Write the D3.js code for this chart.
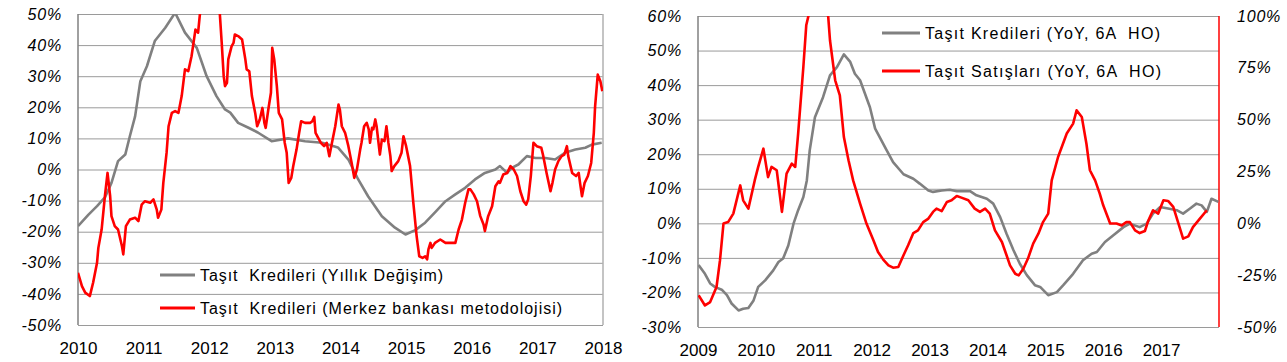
<!DOCTYPE html>
<html>
<head>
<meta charset="utf-8">
<script src="https://cdn.jsdelivr.net/npm/d3@7"></script>
<style>
  body { margin: 0; background: #fff; }
  svg { display: block; }
  text { font-family: "Liberation Sans", Arial, sans-serif; fill: #000; }
</style>
</head>
<body>
<svg id="chart" width="1287" height="362"></svg>
<script>
// ---- left panel: yearly change of vehicle loans (decimal year, %) ----
const leftYears = [2010, 2011, 2012, 2013, 2014, 2015, 2016, 2017, 2018];
const leftTicks = [-50, -40, -30, -20, -10, 0, 10, 20, 30, 40, 50];
const leftLabels = ["Taşıt  Kredileri (Yıllık Değişim)", "Taşıt  Kredileri (Merkez bankası metodolojisi)"];

const krediYillik = [
  [2010.00,-18.2],[2010.16,-14.5],[2010.29,-11.8],[2010.41,-9.0],[2010.51,-4.3],[2010.61,2.7],
  [2010.72,4.8],[2010.79,10.7],[2010.87,17.1],[2010.95,28.4],[2011.05,33.2],[2011.17,41.3],
  [2011.33,45.6],[2011.48,50.4],[2011.63,44.0],[2011.81,39.1],[2011.96,30.0],[2012.11,23.6],
  [2012.24,19.3],[2012.32,18.3],[2012.44,15.0],[2012.59,13.5],[2012.74,11.9],[2012.95,9.1],
  [2013.20,10.0],[2013.46,9.1],[2013.72,8.6],[2013.96,7.1],[2014.12,3.2],[2014.27,-3.2],
  [2014.42,-8.6],[2014.63,-15.0],[2014.83,-18.7],[2014.99,-20.9],[2015.14,-19.5],[2015.29,-17.1],
  [2015.44,-13.8],[2015.60,-10.2],[2015.75,-8.0],[2015.90,-5.9],[2016.05,-3.2],[2016.20,-1.1],
  [2016.36,0.0],[2016.43,1.1],[2016.54,-1.1],[2016.61,0.5],[2016.71,1.6],[2016.84,4.3],
  [2016.97,3.7],[2017.12,3.7],[2017.27,3.2],[2017.42,5.4],[2017.58,6.4],[2017.73,7.0],
  [2017.83,8.0],[2017.98,8.6]
];

const krediMerkez = [
  [2010.00,-33.2],[2010.06,-37.5],[2010.11,-39.6],[2010.18,-40.7],[2010.23,-36.4],[2010.29,-30.0],
  [2010.31,-25.2],[2010.36,-19.3],[2010.41,-8.6],[2010.45,-1.1],[2010.49,-8.6],[2010.51,-15.0],
  [2010.56,-18.2],[2010.61,-19.3],[2010.67,-24.7],[2010.69,-27.3],[2010.73,-18.2],[2010.79,-16.1],
  [2010.87,-15.5],[2010.92,-16.6],[2010.97,-11.3],[2011.02,-10.2],[2011.10,-10.7],[2011.15,-9.6],
  [2011.20,-12.9],[2011.22,-15.5],[2011.27,-12.9],[2011.30,-4.3],[2011.35,5.4],[2011.38,13.9],
  [2011.43,18.2],[2011.48,18.8],[2011.53,18.2],[2011.58,23.6],[2011.63,32.2],[2011.68,31.6],
  [2011.73,36.4],[2011.76,40.7],[2011.79,45.0],[2011.83,44.0],[2011.86,50.4],[2011.92,58.0],
  [2012.01,62.0],[2012.10,57.0],[2012.16,50.4],[2012.19,40.7],[2012.22,30.0],[2012.24,26.8],
  [2012.27,27.9],[2012.29,35.4],[2012.34,39.6],[2012.37,40.7],[2012.39,43.4],[2012.44,42.9],
  [2012.50,41.8],[2012.55,35.4],[2012.57,32.2],[2012.61,31.6],[2012.65,23.6],[2012.70,18.2],
  [2012.73,13.9],[2012.77,16.1],[2012.81,19.8],[2012.84,15.0],[2012.86,13.4],[2012.90,19.3],
  [2012.94,24.7],[2012.96,39.1],[2012.99,35.4],[2013.03,26.8],[2013.06,18.2],[2013.11,16.1],
  [2013.15,8.6],[2013.18,5.4],[2013.21,-4.3],[2013.25,-2.7],[2013.28,1.1],[2013.33,6.4],
  [2013.37,11.8],[2013.40,15.5],[2013.46,15.0],[2013.54,15.0],[2013.57,15.5],[2013.60,16.9],
  [2013.62,11.8],[2013.66,10.2],[2013.70,8.6],[2013.75,7.5],[2013.79,8.6],[2013.83,4.3],
  [2013.87,8.6],[2013.92,13.9],[2013.97,20.9],[2013.99,19.3],[2014.02,13.9],[2014.07,11.8],
  [2014.12,7.5],[2014.17,2.1],[2014.21,-2.7],[2014.25,0.0],[2014.30,6.4],[2014.32,8.6],
  [2014.36,13.9],[2014.40,15.0],[2014.43,12.9],[2014.45,8.6],[2014.48,13.4],[2014.50,12.9],
  [2014.53,16.1],[2014.55,13.9],[2014.60,4.8],[2014.63,9.6],[2014.67,9.1],[2014.70,13.9],
  [2014.73,8.6],[2014.76,4.3],[2014.78,-0.5],[2014.82,1.1],[2014.88,2.7],[2014.93,5.4],
  [2014.96,10.7],[2015.00,7.5],[2015.03,4.3],[2015.06,1.1],[2015.11,-10.7],[2015.16,-21.4],
  [2015.20,-27.9],[2015.25,-28.4],[2015.29,-27.9],[2015.32,-28.9],[2015.34,-25.7],[2015.37,-23.6],
  [2015.39,-25.2],[2015.44,-23.6],[2015.52,-22.5],[2015.60,-23.6],[2015.67,-23.6],[2015.75,-23.6],
  [2015.80,-19.3],[2015.85,-16.1],[2015.90,-10.7],[2015.95,-6.4],[2015.98,-6.4],[2016.03,-8.0],
  [2016.08,-10.2],[2016.13,-15.0],[2016.18,-17.7],[2016.20,-19.8],[2016.25,-15.0],[2016.31,-11.8],
  [2016.36,-5.4],[2016.41,-3.8],[2016.43,-4.3],[2016.48,-1.6],[2016.54,-1.1],[2016.59,1.1],
  [2016.64,0.0],[2016.69,-2.1],[2016.74,-7.0],[2016.79,-10.2],[2016.83,-11.3],[2016.86,-9.6],
  [2016.90,-2.1],[2016.94,8.6],[2016.99,7.5],[2017.06,7.0],[2017.09,4.3],[2017.14,-1.1],
  [2017.20,-7.0],[2017.23,-4.3],[2017.27,0.0],[2017.32,2.7],[2017.37,4.3],[2017.41,4.8],
  [2017.45,7.5],[2017.47,4.3],[2017.53,-1.1],[2017.59,-2.1],[2017.63,-1.1],[2017.65,-4.3],
  [2017.68,-8.6],[2017.72,-4.3],[2017.77,-2.1],[2017.82,2.1],[2017.86,11.8],[2017.88,20.4],
  [2017.92,30.5],[2017.96,28.4],[2017.99,25.2]
];

// ---- right panel: loans (left axis) vs sales (right axis), YoY 6-month MA ----
const rightYears = [2009, 2010, 2011, 2012, 2013, 2014, 2015, 2016, 2017];
const rightTicksLeft = [-30, -20, -10, 0, 10, 20, 30, 40, 50, 60];
const rightTicksRight = [-50, -25, 0, 25, 50, 75, 100];
const rightLabels = ["Taşıt Kredileri (YoY, 6A  HO)", "Taşıt Satışları (YoY, 6A  HO)"];

const krediYoY = [
  [2009.01,-12.1],[2009.12,-14.6],[2009.21,-17.4],[2009.29,-18.4],[2009.41,-19.2],[2009.50,-20.8],
  [2009.58,-23.2],[2009.70,-25.2],[2009.78,-24.7],[2009.87,-24.5],[2009.96,-22.3],[2010.04,-18.4],
  [2010.16,-16.5],[2010.30,-13.6],[2010.39,-11.2],[2010.47,-10.2],[2010.56,-6.4],[2010.65,-0.1],
  [2010.73,3.8],[2010.82,7.6],[2010.88,12.4],[2010.93,21.1],[2011.02,30.7],[2011.16,36.5],
  [2011.28,42.8],[2011.40,45.2],[2011.52,48.9],[2011.63,46.7],[2011.71,43.3],[2011.80,41.4],
  [2011.97,33.6],[2012.06,27.4],[2012.26,21.1],[2012.37,17.7],[2012.55,14.2],[2012.72,12.9],
  [2012.83,11.5],[2012.98,9.5],[2013.06,9.1],[2013.21,9.5],[2013.35,9.7],[2013.47,9.3],
  [2013.64,9.3],[2013.70,9.3],[2013.81,8.1],[2013.99,7.1],[2014.10,5.7],[2014.22,1.8],
  [2014.33,-3.0],[2014.45,-7.8],[2014.56,-11.7],[2014.68,-15.0],[2014.82,-17.9],[2014.91,-18.4],
  [2015.05,-20.8],[2015.20,-19.9],[2015.31,-17.9],[2015.48,-14.6],[2015.65,-10.7],[2015.80,-8.8],
  [2015.89,-8.3],[2016.03,-5.4],[2016.17,-3.5],[2016.35,-1.1],[2016.46,-0.1],[2016.63,-1.1],
  [2016.75,-0.1],[2016.86,2.8],[2016.98,4.7],[2017.12,4.3],[2017.27,3.8],[2017.38,2.8],
  [2017.50,4.3],[2017.61,5.7],[2017.70,5.2],[2017.79,3.3],[2017.87,7.1],[2017.99,6.2]
];

const satisYoY = [
  [2009.01,-34.7],[2009.12,-39.6],[2009.21,-38.0],[2009.32,-30.7],[2009.38,-17.8],[2009.44,-0.1],
  [2009.52,0.6],[2009.61,4.7],[2009.73,18.3],[2009.78,11.1],[2009.87,7.1],[2009.98,20.7],
  [2010.04,27.2],[2010.13,36.0],[2010.21,22.3],[2010.27,27.2],[2010.36,25.6],[2010.45,5.5],
  [2010.53,24.0],[2010.62,28.8],[2010.68,27.2],[2010.73,43.3],[2010.82,75.4],[2010.87,95.5],
  [2010.91,100.3],[2010.99,112],[2011.11,115],[2011.19,108],[2011.25,99.5],[2011.28,88.3],
  [2011.37,69.0],[2011.45,61.7],[2011.52,41.6],[2011.60,30.4],[2011.68,20.7],[2011.80,9.5],
  [2011.91,-0.1],[2012.03,-8.2],[2012.11,-13.8],[2012.20,-17.5],[2012.29,-20.3],[2012.37,-21.4],
  [2012.46,-21.1],[2012.55,-15.4],[2012.63,-10.6],[2012.72,-4.7],[2012.80,-3.4],[2012.89,0.6],
  [2012.98,2.3],[2013.06,5.5],[2013.12,7.1],[2013.21,5.9],[2013.30,10.3],[2013.38,11.1],
  [2013.47,13.2],[2013.55,12.4],[2013.67,11.1],[2013.78,7.1],[2013.87,5.5],[2013.96,7.1],
  [2014.04,4.7],[2014.13,-3.4],[2014.25,-9.0],[2014.33,-15.4],[2014.39,-20.3],[2014.48,-24.3],
  [2014.54,-25.1],[2014.62,-21.9],[2014.70,-17.0],[2014.79,-9.8],[2014.88,-5.0],[2014.96,0.6],
  [2015.05,4.7],[2015.11,20.7],[2015.22,32.0],[2015.37,43.3],[2015.48,48.1],[2015.54,54.5],
  [2015.63,51.3],[2015.71,38.4],[2015.77,25.6],[2015.86,20.7],[2015.94,14.3],[2016.00,8.7],
  [2016.12,-0.1],[2016.23,-0.1],[2016.32,-1.0],[2016.40,0.6],[2016.46,0.6],[2016.55,-3.4],
  [2016.63,-4.7],[2016.72,-3.7],[2016.78,1.4],[2016.86,6.3],[2016.95,4.7],[2017.04,11.1],
  [2017.12,10.8],[2017.21,7.9],[2017.30,-0.1],[2017.38,-7.4],[2017.47,-6.3],[2017.55,-1.8],
  [2017.67,2.3],[2017.79,6.3]
];

const GRAY = "#808080";
const RED = "#ff0000";
const GRID = "#9a9a9a";
const FONT = '"Liberation Sans", Arial, sans-serif';

const svg = d3.select("#chart");

function styleYLabels(g, color) {
  g.selectAll("text")
    .attr("fill", color)
    .attr("font-size", 16).attr("font-style", "italic")
    .attr("letter-spacing", "0.8px")
    .attr("font-family", FONT);
}

// ---------- left panel ----------
const L = { left: 78, right: 603, top: 14, bottom: 325 };

const xL = d3.scaleLinear().domain([2010, 2018]).range([L.left, L.right]);
const yL = d3.scaleLinear().domain([-50, 50]).range([L.bottom, L.top]);

svg.append("clipPath").attr("id", "clipL")
  .append("rect")
  .attr("x", L.left).attr("y", L.top)
  .attr("width", L.right - L.left).attr("height", L.bottom - L.top);

// gridlines + y labels
const gyL = svg.append("g")
  .attr("transform", `translate(${L.left},0)`)
  .call(d3.axisLeft(yL).tickValues(leftTicks)
    .tickSize(-(L.right - L.left)).tickPadding(16)
    .tickFormat(d => d + "%"));
gyL.select(".domain").remove();
gyL.selectAll("line").attr("stroke", GRID).attr("stroke-width", 1);
styleYLabels(gyL, "#000");

// x labels
const gxL = svg.append("g")
  .attr("transform", `translate(0,${L.bottom})`)
  .call(d3.axisBottom(xL).tickValues(leftYears).tickSize(0).tickPadding(17)
    .tickFormat(d3.format("d")));
gxL.select(".domain").remove();
gxL.selectAll("text").attr("font-size", 17).attr("font-family", FONT);

// frame
svg.append("line")
  .attr("x1", L.left).attr("x2", L.left).attr("y1", L.top).attr("y2", L.bottom)
  .attr("stroke", GRAY).attr("stroke-width", 1.5);
svg.append("line")
  .attr("x1", L.right).attr("x2", L.right).attr("y1", L.top).attr("y2", L.bottom)
  .attr("stroke", "#b0b0b0").attr("stroke-width", 1.5);

const lineL = d3.line().x(d => xL(d[0])).y(d => yL(d[1]));

svg.append("path").datum(krediYillik)
  .attr("clip-path", "url(#clipL)")
  .attr("d", lineL).attr("fill", "none")
  .attr("stroke", GRAY).attr("stroke-width", 2.6).attr("stroke-linejoin", "round");

svg.append("path").datum(krediMerkez)
  .attr("clip-path", "url(#clipL)")
  .attr("d", lineL).attr("fill", "none")
  .attr("stroke", RED).attr("stroke-width", 2.6).attr("stroke-linejoin", "round");

// legend (text widths matched to the original)
const legLWidths = [243, 362];
const legL = svg.append("g");
[GRAY, RED].forEach((c, i) => {
  const yy = 275 + i * 33;
  legL.append("line")
    .attr("x1", 160).attr("x2", 195).attr("y1", yy).attr("y2", yy)
    .attr("stroke", c).attr("stroke-width", 3);
  legL.append("text")
    .attr("x", 200).attr("y", yy).attr("dy", "0.36em")
    .attr("font-size", 16)
    .attr("textLength", legLWidths[i]).attr("lengthAdjust", "spacing")
    .style("white-space", "pre")
    .text(leftLabels[i]);
});

// ---------- right panel ----------
const R = { left: 698, right: 1219, top: 16, bottom: 327 };

const xR = d3.scaleLinear().domain([2009, 2018]).range([R.left, R.right]);
const yR = d3.scaleLinear().domain([-30, 60]).range([R.bottom, R.top]);
const yR2 = d3.scaleLinear().domain([-50, 100]).range([R.bottom, R.top]);

svg.append("clipPath").attr("id", "clipR")
  .append("rect")
  .attr("x", R.left).attr("y", R.top)
  .attr("width", R.right - R.left).attr("height", R.bottom - R.top);

const gyR = svg.append("g")
  .attr("transform", `translate(${R.left},0)`)
  .call(d3.axisLeft(yR).tickValues(rightTicksLeft)
    .tickSize(-(R.right - R.left)).tickPadding(16)
    .tickFormat(d => d + "%"));
gyR.select(".domain").remove();
gyR.selectAll("line").attr("stroke", GRID).attr("stroke-width", 1);
styleYLabels(gyR, "#000");

const gyR2 = svg.append("g")
  .attr("transform", `translate(${R.right},0)`)
  .call(d3.axisRight(yR2).tickValues(rightTicksRight)
    .tickSize(0).tickPadding(18)
    .tickFormat(d => d + "%"));
gyR2.select(".domain").remove();
styleYLabels(gyR2, RED);

const gxR = svg.append("g")
  .attr("transform", `translate(0,${R.bottom})`)
  .call(d3.axisBottom(xR).tickValues(rightYears).tickSize(0).tickPadding(17)
    .tickFormat(d3.format("d")));
gxR.select(".domain").remove();
gxR.selectAll("text").attr("font-size", 17).attr("font-family", FONT);

svg.append("line")
  .attr("x1", R.left).attr("x2", R.left).attr("y1", R.top).attr("y2", R.bottom)
  .attr("stroke", GRAY).attr("stroke-width", 1.5);
svg.append("line")
  .attr("x1", R.right).attr("x2", R.right).attr("y1", R.top).attr("y2", R.bottom)
  .attr("stroke", RED).attr("stroke-width", 1.5);

const lineR = d3.line().x(d => xR(d[0])).y(d => yR(d[1]));
const lineR2 = d3.line().x(d => xR(d[0])).y(d => yR2(d[1]));

svg.append("path").datum(krediYoY)
  .attr("clip-path", "url(#clipR)")
  .attr("d", lineR).attr("fill", "none")
  .attr("stroke", GRAY).attr("stroke-width", 2.6).attr("stroke-linejoin", "round");

svg.append("path").datum(satisYoY)
  .attr("clip-path", "url(#clipR)")
  .attr("d", lineR2).attr("fill", "none")
  .attr("stroke", RED).attr("stroke-width", 2.6).attr("stroke-linejoin", "round");

const legRWidths = [235, 236];
const legR = svg.append("g");
[GRAY, RED].forEach((c, i) => {
  const yy = 33 + i * 38;
  legR.append("line")
    .attr("x1", 882).attr("x2", 920).attr("y1", yy).attr("y2", yy)
    .attr("stroke", c).attr("stroke-width", 3);
  legR.append("text")
    .attr("x", 925).attr("y", yy).attr("dy", "0.36em")
    .attr("font-size", 16)
    .attr("textLength", legRWidths[i]).attr("lengthAdjust", "spacing")
    .style("white-space", "pre")
    .text(rightLabels[i]);
});
</script>
</body>
</html>
